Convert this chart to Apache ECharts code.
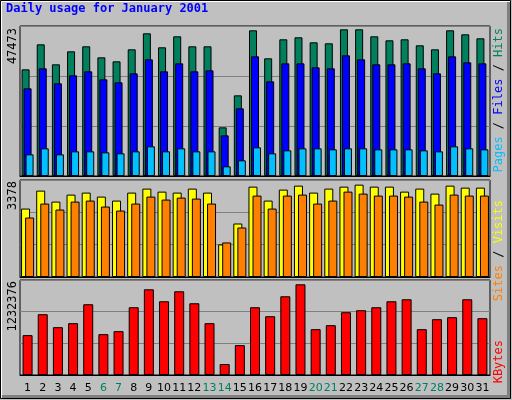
<!DOCTYPE html>
<html><head><meta charset="utf-8">
<script src="https://cdn.jsdelivr.net/npm/echarts@6/dist/echarts.min.js"></script>
<style>html,body{margin:0;padding:0;background:#c0c0c0}#c{width:512px;height:400px}</style>
</head><body><div id="c"></div>
<script>
const days = ['1','2','3','4','5','6','7','8','9','10','11','12','13','14','15','16','17','18','19','20','21','22','23','24','25','26','27','28','29','30','31'];
const weekends = ['6','7','13','14','20','21','27','28'];
const hits = [33760,41672,35343,39457,41040,37558,36292,40090,45154,40723,44205,41040,41040,15403,25531,46104,37242,43255,43888,42306,41989,46420,46420,44205,42939,43255,41356,40090,46104,44838,43572];
const files = [27747,34077,29329,31861,33127,30595,29646,32494,36925,33127,35659,33127,33444,12871,21417,37875,29962,35659,35659,34393,34077,38191,36925,35343,35343,35659,34077,32494,37875,35976,35659];
const pages = [6858,8757,6858,7807,7807,7491,7174,7807,9390,7807,8757,7807,7807,3060,4959,9073,7174,8124,8757,8757,8440,8757,8757,8440,8440,8440,8124,7807,9390,8757,8440];
const visits = [2383,3008,2626,2869,2939,2800,2661,2939,3078,2973,2939,3078,2939,1134,1863,3147,2661,3043,3182,2939,3078,3147,3216,3147,3147,2973,3078,2904,3182,3112,3112];
const sites = [2071,2557,2349,2626,2661,2453,2314,2557,2800,2696,2765,2731,2557,1203,1724,2835,2383,2835,2869,2557,2661,2973,2904,2835,2835,2800,2626,2522,2869,2835,2835];
const kbytes = [517080,788547,620496,672204,917817,530007,568788,879036,1111722,956598,1085868,930744,672204,142197,387810,879036,762693,1021233,1176357,594642,646350,814401,840255,879036,956598,982452,594642,723912,749766,982452,736839];
const maxLabels = [47473, 3378, 1232376];
const title = 'Daily usage for January 2001';

const chart = echarts.init(document.getElementById('c'));
const grids = [
  {left:20, right:22, top:26, height:150},
  {left:20, right:22, top:180, height:97},
  {left:20, right:22, top:280, height:95}
];
const mono = 'DejaVu Sans Mono';
function yAx(i, max){
  return {gridIndex:i, type:'value', min:0, max:max, interval:max/3,
    axisLabel:{show:false}, axisLine:{show:false}, axisTick:{show:false},
    splitLine:{show:true, lineStyle:{color:'#808080', width:1}}};
}
function xAx(i, show){
  return {gridIndex:i, type:'category', data:days, axisTick:{show:false},
    axisLine:{show:true, lineStyle:{color:'#000'}},
    axisLabel:{show:show, interval:0, margin:8, fontFamily:'DejaVu Sans', fontSize:11,
      formatter:v=>weekends.includes(v)?'{w|'+v+'}':'{n|'+v+'}',
      rich:{w:{color:'#00805f',fontFamily:'DejaVu Sans',fontSize:11},n:{color:'#000',fontFamily:'DejaVu Sans',fontSize:11}}}};
}
function bar(name, data, color, xi, w, gap){
  return {name, type:'bar', xAxisIndex:xi, yAxisIndex:xi, data, barWidth:w, barGap:gap,
    itemStyle:{color, borderColor:'#000', borderWidth:1}, silent:true, animation:false};
}
function vlabel(x, y, rich, parts){
  return {type:'text', x, y, rotation:Math.PI/2,
    style:{text:parts, rich, align:'right', verticalAlign:'middle', font:'12px '+mono}};
}
chart.setOption({
  backgroundColor:'#c0c0c0',
  animation:false,
  grid: grids.map(g=>Object.assign({show:true, borderColor:'#000', borderWidth:1, backgroundColor:'#c0c0c0'}, g)),
  xAxis:[xAx(0,false), xAx(1,false), xAx(2,true)],
  yAxis:[yAx(0,maxLabels[0]), yAx(1,maxLabels[1]), yAx(2,maxLabels[2])],
  series:[
    bar('Hits', hits, '#00805c', 0, 8, '-75%'),
    bar('Files', files, '#0000ff', 0, 8, '-75%'),
    bar('Pages', pages, '#00c0ff', 0, 8, '-75%'),
    bar('Visits', visits, '#ffff00', 1, 9, '-55%'),
    bar('Sites', sites, '#ff8000', 1, 9, '-55%'),
    bar('KBytes', kbytes, '#ff0000', 2, 10, '-100%')
  ],
  graphic:[
    {type:'rect', shape:{x:0.5,y:0.5,width:510,height:398}, style:{fill:'none', stroke:'#000', lineWidth:1}},
    {type:'rect', shape:{x:1.5,y:1.5,width:508,height:396}, style:{fill:'none', stroke:'#fff', lineWidth:1}},
    {type:'rect', shape:{x:2,y:395,width:508,height:3}, style:{fill:'#808080'}},
    {type:'rect', shape:{x:507,y:2,width:3,height:396}, style:{fill:'#808080'}},
    {type:'text', x:6, y:9, style:{text:title, fill:'#0000ff', font:'bold 12px '+mono, verticalAlign:'middle'}},
    vlabel(13, 28, {}, String(maxLabels[0])),
    vlabel(13, 181, {}, String(maxLabels[1])),
    vlabel(13, 281, {}, String(maxLabels[2])),
    {type:'text', x:499, y:28, rotation:Math.PI/2, style:{
      text:'{p|Pages}{s| / }{f|Files}{s| / }{h|Hits}', align:'right', verticalAlign:'middle', font:'12px '+mono,
      rich:{p:{fill:'#00c0ff',font:'12px '+mono},f:{fill:'#0000ff',font:'12px '+mono},h:{fill:'#00805c',font:'12px '+mono},s:{fill:'#000',font:'12px '+mono}}}},
    {type:'text', x:499, y:200, rotation:Math.PI/2, style:{
      text:'{a|Sites}{s| / }{b|Visits}', align:'right', verticalAlign:'middle', font:'12px '+mono,
      rich:{a:{fill:'#ff8000',font:'12px '+mono},b:{fill:'#ffff00',font:'12px '+mono},s:{fill:'#000',font:'12px '+mono}}}},
    {type:'text', x:499, y:340, rotation:Math.PI/2, style:{text:'KBytes', fill:'#ff0000', align:'right', verticalAlign:'middle', font:'12px '+mono}}
  ]
});
</script></body></html>
